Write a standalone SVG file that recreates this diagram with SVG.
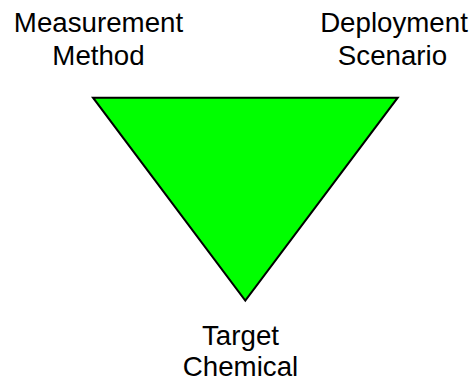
<svg xmlns="http://www.w3.org/2000/svg" width="470" height="383" viewBox="0 0 470 383">
<style>
text{font-family:"Liberation Sans",Arial,sans-serif;font-size:27.7px;fill:#000;text-anchor:middle}
.tri{fill:#00ff00;stroke:#000;stroke-width:2;stroke-linejoin:miter}
</style>
<rect width="470" height="383" fill="#fff"/>
<g id="triangle"><polygon class="tri" points="93,97.7 397.7,97.7 245.3,300.5"/></g>
<g id="connectors"></g>
<g id="measurement-method"><text x="98.5" y="32.3">Measurement</text><text x="98.5" y="65">Method</text></g>
<g id="deployment-scenario"><text x="394" y="32">Deployment</text><text x="392.5" y="65">Scenario</text></g>
<g id="target-chemical"><text x="240.5" y="345">Target</text><text x="240.5" y="376">Chemical</text></g>
</svg>
